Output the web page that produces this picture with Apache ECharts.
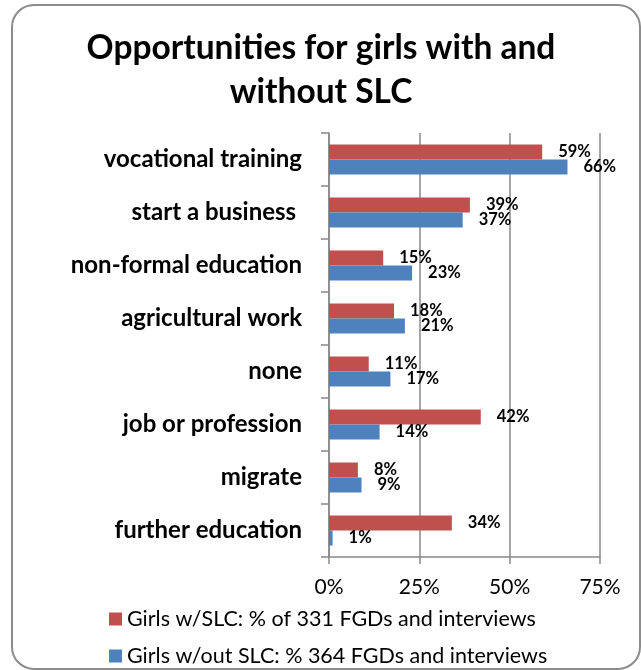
<!DOCTYPE html>
<html>
<head>
<meta charset="utf-8">
<script src="https://cdn.jsdelivr.net/npm/echarts@6/dist/echarts.min.js"></script>
<style>
  html, body { margin: 0; padding: 0; background: #fff; }
  #chart { width: 641px; height: 670px; }
</style>
</head>
<body>
<div id="chart"></div>
<script>
// Opportunities by category, top to bottom
const categories = [
  'vocational training',
  'start a business ',
  'non-formal education',
  'agricultural work',
  'none',
  'job or profession',
  'migrate',
  'further education'
];
const withSLC = [59, 39, 15, 18, 11, 42, 8, 34];
const withoutSLC = [66, 37, 23, 21, 17, 14, 9, 1];
const seriesNames = [
  'Girls w/SLC: % of 331 FGDs and interviews',
  'Girls w/out SLC: % 364 FGDs and interviews'
];
const tickValues = [0, 25, 50, 75];

const FONT = 'Lato';
const chart = echarts.init(document.getElementById('chart'));

const labelStyle = {
  show: true,
  position: 'right',
  distance: 16,
  formatter: '{c}%',
  color: '#000',
  fontFamily: FONT,
  fontWeight: 'bold',
  fontSize: 16.5
};

// one legend per row so each line sits at its own height
function legendRow(name, top) {
  return {
    orient: 'horizontal',
    left: 109,
    top: top,
    padding: 0,
    itemWidth: 13,
    itemHeight: 13,
    icon: 'rect',
    textStyle: { fontFamily: FONT, fontSize: 21.5, color: '#000' },
    data: [name]
  };
}

chart.setOption({
  backgroundColor: '#fff',
  animation: false,
  title: {
    text: 'Opportunities for girls with and\nwithout SLC',
    left: 321,
    textAlign: 'center',
    top: 26,
    padding: 0,
    textStyle: {
      fontFamily: FONT,
      fontWeight: 'bold',
      fontSize: 33.5,
      lineHeight: 44,
      color: '#000'
    }
  },
  graphic: [{
    type: 'rect',
    shape: { x: 12, y: 5, width: 628, height: 664, r: 22 },
    style: { fill: 'none', stroke: '#8c8c8c', lineWidth: 2 },
    silent: true,
    z: -1
  }],
  legend: [
    legendRow(seriesNames[0], 608),
    legendRow(seriesNames[1], 645)
  ],
  grid: { left: 329, right: 41, top: 133, bottom: 113, containLabel: false },
  xAxis: {
    type: 'value',
    min: tickValues[0],
    max: tickValues[tickValues.length - 1],
    interval: 25,
    axisLine: { show: true, lineStyle: { color: '#888', width: 1.5 } },
    axisTick: { show: true, length: 7, lineStyle: { color: '#888', width: 1.5 } },
    splitLine: { show: true, lineStyle: { color: '#888', width: 1.5 } },
    axisLabel: {
      formatter: '{value}%',
      fontFamily: FONT,
      fontSize: 21,
      color: '#000',
      margin: 20
    }
  },
  yAxis: {
    type: 'category',
    inverse: true,
    data: categories,
    axisLine: { show: true, lineStyle: { color: '#888', width: 1.5 } },
    axisTick: { show: true, length: 8, lineStyle: { color: '#888', width: 1.5 } },
    axisLabel: {
      fontFamily: FONT,
      fontWeight: 'bold',
      fontSize: 24,
      color: '#000',
      margin: 27
    }
  },
  series: [
    {
      name: seriesNames[0],
      type: 'bar',
      data: withSLC,
      barWidth: 15,
      barGap: '0%',
      itemStyle: { color: '#C0504D' },
      label: labelStyle
    },
    {
      name: seriesNames[1],
      type: 'bar',
      data: withoutSLC,
      barWidth: 15,
      barGap: '0%',
      itemStyle: { color: '#4F81BD' },
      label: labelStyle
    }
  ]
});
</script>
</body>
</html>
